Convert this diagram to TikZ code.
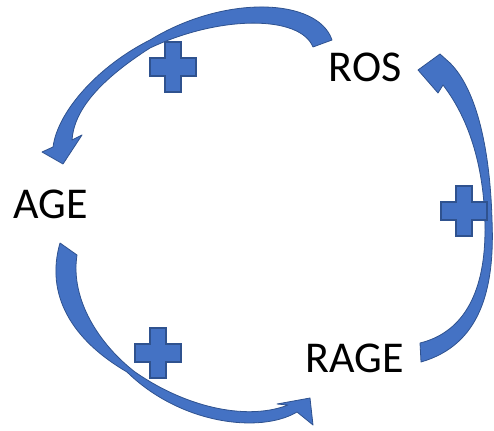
\documentclass[tikz,border=0pt]{standalone}
\usepackage{fontspec}
\setmainfont{Carlito}
\usepackage{tikz}
\definecolor{loopblue}{HTML}{4472C4}
\definecolor{edgeblue}{HTML}{2F528F}

\begin{document}
\begin{tikzpicture}[x=1pt,y=-1pt]
                \useasboundingbox (0,0) rectangle (494,430);
                % the three labels
                \node[anchor=base,font=\fontsize{44}{50}\selectfont,inner sep=0pt] (ros) at (365,82) {ROS};
                \node[anchor=base,font=\fontsize{44}{50}\selectfont,inner sep=0pt] (age) at (50.5,218) {AGE};
                \node[anchor=base,font=\fontsize{44}{50}\selectfont,inner sep=0pt] (rage) at (354.5,372) {RAGE};
                % ROS to AGE
                \filldraw[fill=loopblue, draw=edgeblue, line width=0.8pt, line join=round]
                    (313,47) -- (332,40) .. controls (318,-2) and (225,-6) .. (150,40)
                    .. controls (100,65) and (58,110) .. (53,147)
                    -- (42,152) -- (63,164) -- (82,135) -- (72,140)
                    .. controls (74,110) and (100,80) .. (150,48)
                    .. controls (220,15) and (300,15) .. (313,47) -- cycle;
                % AGE to RAGE
                \filldraw[fill=loopblue, draw=edgeblue, line width=0.8pt, line join=round]
                    (60,243) -- (77,255) .. controls (70,300) and (100,345) .. (135,372)
                    .. controls (190,410) and (250,420) .. (288,405)
                    -- (277,404) -- (310,398) -- (313,425) -- (297,412)
                    .. controls (260,434) and (180,424) .. (127,372)
                    .. controls (72,340) and (45,295) .. (60,243) -- cycle;
                % RAGE to ROS
                \filldraw[fill=loopblue, draw=edgeblue, line width=0.8pt, line join=round]
                    (420,343) -- (421,362) .. controls (480,345) and (495,290) .. (492,220)
                    .. controls (490,150) and (477,90) .. (450,63)
                    -- (440,54) -- (418,70) -- (438,93) -- (443,85)
                    .. controls (470,120) and (485,170) .. (485,230)
                    .. controls (485,290) and (465,332) .. (420,343) -- cycle;
                % plus signs
                \foreach \px/\py in {173/67, 158/353, 464/211}
                    \filldraw[fill=loopblue, draw=edgeblue, line width=1.2pt, shift={(\px,\py)}]
                        (-8,-25) -- (8,-25) -- (8,-9) -- (23,-9) -- (23,9) -- (8,9) -- (8,25)
                        -- (-8,25) -- (-8,9) -- (-23,9) -- (-23,-9) -- (-8,-9) -- cycle;
            \end{tikzpicture}
\end{document}
